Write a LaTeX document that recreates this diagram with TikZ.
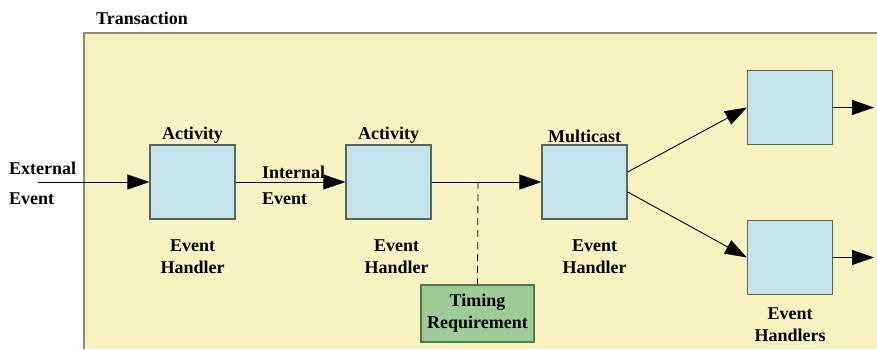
\documentclass[tikz,border=0pt]{standalone}
\usepackage{fontspec}
\setmainfont{Liberation Serif}
\usetikzlibrary{positioning,arrows.meta}

\definecolor{trnfill}{HTML}{F7F4C2}
\definecolor{trnline}{HTML}{8E8D70}
\definecolor{ehfill}{HTML}{C4E3EB}
\definecolor{ehline}{HTML}{56665C}
\definecolor{tmfill}{HTML}{9ECC96}
\definecolor{tmline}{HTML}{4F7A4B}

\tikzset{
  bigbold/.style={font=\fontsize{18}{22}\selectfont\bfseries},
  handler/.style={draw=ehline,fill=ehfill,line width=1.2pt,
    minimum width=85pt,minimum height=74pt,inner sep=0pt},
  timing/.style={bigbold,draw=tmline,fill=tmfill,line width=1.2pt,
    minimum width=113pt,minimum height=57pt,inner sep=0pt,align=center},
  lbl/.style={bigbold,inner sep=1pt,align=center},
  flow/.style={line width=0.9pt,-{Triangle[length=22pt,width=15pt]}}
}

\begin{document}
\begin{tikzpicture}[x=1pt,y=-1pt]
  \useasboundingbox (0,0) rectangle (877,349);
  % Transaction area (runs off the right and bottom edges).
  \fill[trnfill] (84,33) rectangle (877,349);
  \draw[trnline,line width=1.2pt] (84,349) -- (84,33) -- (877,33);
  \node[lbl] (trn) at (142,18) {Transaction};

  % Event handlers.
  \node[handler] (act1) at (192.5,182) {};
  \node[handler] (act2) at (388.5,182) {};
  \node[handler] (mc)   at (584.5,182) {};
  \node[handler] (out1) at (790,107.5) {};
  \node[handler] (out2) at (790,257.5) {};
  \node[timing]  (req)  at (477.5,313.5) {Timing\\Requirement};

  % Labels.
  \node[lbl,above=0pt of act1] (act1top) {Activity};
  \node[lbl,above=0pt of act2] (act2top) {Activity};
  \node[lbl,above=0pt of mc]   (mctop)   {Multicast};
  \node[lbl,below=19pt of act1] (act1bot) {Event\\Handler};
  \node[lbl,below=19pt of act2,xshift=8pt] (act2bot) {Event\\Handler};
  \node[lbl,below=19pt of mc,xshift=10pt] (mcbot) {Event\\Handler};
  \node[lbl,below=11pt of out2] (outbot) {Event\\Handlers};
  \node[lbl,anchor=west,align=left] (ext) at (8,183) {External\\[8pt]Event};
  \node[lbl,anchor=west,align=left] (int) at (261,185) {Internal\\[4pt]Event};

  % Connectors.
  \coordinate (src) at (38,182);
  \coordinate (tap) at (478,182);
  \coordinate (end1) at (874,107.5);
  \coordinate (end2) at (874,257.5);
  \draw[flow] (src) -- (act1);
  \draw[flow] (act1) -- (act2);
  \draw[flow] (act2) -- (mc);
  \draw[flow] (mc.13) -- (out1.west);
  \draw[flow] (mc.-13) -- (out2.west);
  \draw[flow] (out1) -- (end1);
  \draw[flow] (out2) -- (end2);
  \draw[dashed,line width=0.8pt,dash pattern=on 7pt off 5pt] (tap) -- (req.north);
\end{tikzpicture}
\end{document}
